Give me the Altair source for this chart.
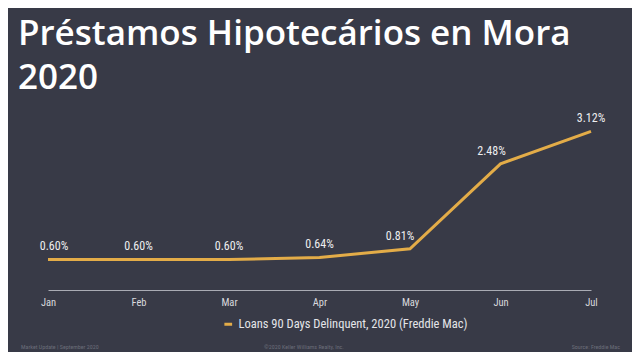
import altair as alt
import pandas as pd

months = ["Jan", "Feb", "Mar", "Apr", "May", "Jun", "Jul"]
values = [0.60, 0.60, 0.60, 0.64, 0.81, 2.48, 3.12]
series_name = "Loans 90 Days Delinquent, 2020 (Freddie Mac)"
title_lines = ["Préstamos Hipotecários en Mora", "2020"]
footer_left = "Market Update | September 2020"
footer_mid = "©2020 Keller Williams Realty, Inc."
footer_right = "Source: Freddie Mac"

df = pd.DataFrame({
    "month": months,
    "value": values,
    "label": [f"{v:.2f}%" for v in values],
    "series": [series_name] * len(months),
})

BG = "#383a47"
GOLD = "#e3ac48"
NARROW = "Liberation Sans Narrow, Roboto Condensed, Roboto, sans-serif"

x_enc = alt.X("month:O", sort=months, scale=alt.Scale(type="point", padding=0),
              axis=alt.Axis(title=None, labelAngle=0, ticks=False, domainColor="#a9abb4",
                            domainWidth=1, labelColor="#d8d9de", labelFont=NARROW,
                            labelFontSize=10.5, labelPadding=7, grid=False))
y_enc = alt.Y("value:Q", scale=alt.Scale(domain=[0, 3.5]), axis=None)

base = alt.Chart(df)

line = base.mark_line(strokeWidth=3, color=GOLD).encode(
    x=x_enc, y=y_enc,
    color=alt.Color("series:N", scale=alt.Scale(range=[GOLD]),
                    legend=alt.Legend(title=None, orient="none", legendX=174, legendY=206,
                                      symbolType="stroke", symbolStrokeWidth=3,
                                      symbolSize=60, labelColor="#e4e5e9", labelLimit=0,
                                      labelFont=NARROW, labelFontSize=12.5)),
)

# label nudges (left of rising segments), applied per month group
label_groups = [
    (["Jan"], 6),
    (["Feb", "Mar", "Apr", "Jul"], 0),
    (["May"], -10),
    (["Jun"], -9),
]
label_layers = [
    base.transform_filter(alt.FieldOneOfPredicate(field="month", oneOf=ms))
    .mark_text(dy=-13, dx=dx, color="#eeeef0", font=NARROW, fontSize=12)
    .encode(x=x_enc, y=y_enc, text="label:N")
    for ms, dx in label_groups
]

f1 = alt.Chart(pd.DataFrame({"t": [footer_left]})).mark_text(
    align="left", baseline="middle", color="#6b6d79", fontSize=6, font=NARROW
).encode(x=alt.value(-27), y=alt.value(235), text="t:N")
f2 = alt.Chart(pd.DataFrame({"t": [footer_mid]})).mark_text(
    align="center", baseline="middle", color="#6b6d79", fontSize=6, font=NARROW
).encode(x=alt.value(256), y=alt.value(235), text="t:N")
f3 = alt.Chart(pd.DataFrame({"t": [footer_right]})).mark_text(
    align="right", baseline="middle", color="#6b6d79", fontSize=6, font=NARROW
).encode(x=alt.value(572), y=alt.value(235), text="t:N")

chart = alt.layer(line, *label_layers, f1, f2, f3).properties(
    width=543, height=178,
    background=BG,
    padding={"left": 40, "top": 104, "right": 41, "bottom": 62},
    autosize=alt.AutoSizeParams(type="none"),
    title=alt.TitleParams(text=title_lines, anchor="start", dx=-30, offset=16,
                          color="#ffffff", font="Open Sans", fontWeight=600,
                          fontSize=35, lineHeight=44, frame="group"),
).configure_view(strokeWidth=0)

chart.save("out.html", embed_options={"renderer": "svg", "actions": False})
